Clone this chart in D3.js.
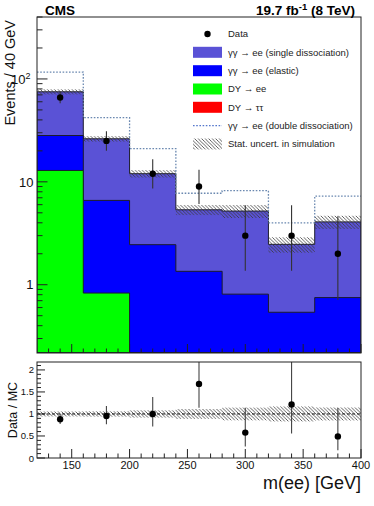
<!DOCTYPE html>
<html>
<head>
<meta charset="utf-8">
<script src="https://cdn.jsdelivr.net/npm/d3@7"></script>
<style>
  body { margin: 0; background: #fff; }
  text { font-family: "Liberation Sans", Arial, Helvetica, sans-serif; }
</style>
</head>
<body>
<div id="chart"></div>
<script>
// data
// --------------------------------------------------------
const binEdges = [120, 160, 200, 240, 280, 320, 360, 400];
const dyTauTau = [0, 0, 0, 0, 0, 0, 0];
const dyEE = [12.9, 0.83, 0, 0, 0, 0, 0];
const elastic = [15.3, 5.77, 2.45, 1.35, 0.81, 0.54, 0.75];
const singleDiss = [46.8, 19.6, 9.55, 4.0, 4.39, 1.93, 3.33];
const doubleDiss = [41.5, 15.8, 9.0, 2.4, 3.0, 1.53, 3.18];
const mcStatErr = [4.3, 1.6, 1.0, 0.6, 0.75, 0.42, 0.6];
const dataCounts = [66, 25, 12, 9, 3, 3, 2];
const dataErrLo = [8.1, 4.9, 3.4, 2.9, 1.63, 1.63, 1.29];
const dataErrHi = [9.1, 6.0, 4.6, 4.1, 2.92, 2.92, 2.64];

const xTicksMajor = [150, 200, 250, 300, 350, 400];
const yTicksMajor = [1, 10, 100];
const ratioTicks = [0, 0.5, 1, 1.5, 2];

const legendEntries = [
    {label: "Data", type: "marker"},
    {label: "γγ → ee (single dissociation)", type: "box", color: "#5a52d6"},
    {label: "γγ → ee (elastic)", type: "box", color: "#0000ff"},
    {label: "DY → ee", type: "box", color: "#00ff00"},
    {label: "DY → ττ", type: "box", color: "#ff0000"},
    {label: "γγ → ee (double dissociation)", type: "dotted"},
    {label: "Stat. uncert. in simulation", type: "hatch"}
];

// layout
// --------------------------------------------------------
let width = 374,
    height = 506,
    left = 37,
    right = 361,
    topY0 = 17,
    topY1 = 353,
    ratY0 = 362,
    ratY1 = 458;

let svg = d3.select("#chart").append("svg")
    .attr("width", width)
    .attr("height", height);

let defs = svg.append("defs");
defs.append("pattern")
    .attr("id", "hatch")
    .attr("patternUnits", "userSpaceOnUse")
    .attr("width", 3.5)
    .attr("height", 3.5)
  .append("path")
    .attr("d", "M-1,-1L4.5,4.5M-1,2.5L1,4.5M2.5,-1L4.5,1")
    .attr("stroke", "#3a3a3a")
    .attr("stroke-width", 0.8);

defs.append("clipPath").attr("id", "clipTop")
  .append("rect").attr("x", left).attr("y", topY0)
    .attr("width", right - left).attr("height", topY1 - topY0);
defs.append("clipPath").attr("id", "clipRat")
  .append("rect").attr("x", left).attr("y", ratY0)
    .attr("width", right - left).attr("height", ratY1 - ratY0);

// scales
// --------------------------------------------------------
let x = d3.scaleLinear().domain([120, 400]).range([left, right]);
let y = d3.scaleLog().domain([0.217, 400]).range([topY1, topY0]).clamp(true);
let yr = d3.scaleLinear().domain([0, 2.18]).range([ratY1, ratY0]);

let yMin = y.domain()[0];
let yv = v => y(Math.max(v, yMin));

let bins = d3.range(dataCounts.length).map(i => ({
    lo: binEdges[i],
    hi: binEdges[i + 1],
    mid: (binEdges[i] + binEdges[i + 1]) / 2,
    dytt: dyTauTau[i],
    dyee: dyEE[i],
    el: elastic[i],
    sd: singleDiss[i],
    dd: doubleDiss[i],
    err: mcStatErr[i],
    n: dataCounts[i],
    lo_e: dataErrLo[i],
    hi_e: dataErrHi[i]
}));

let stack = d3.stack().keys(["dytt", "dyee", "el", "sd"])(bins);
let colors = {dytt: "#ff0000", dyee: "#00ff00", el: "#0000ff", sd: "#5a52d6"};
bins.forEach((b, i) => { b.total = stack[3][i][1]; });

// step path through bin values
function stepPath(vals, closed) {
    let p = d3.path();
    p.moveTo(x(binEdges[0]), closed ? topY1 : yv(vals[0]));
    vals.forEach((v, i) => {
        p.lineTo(x(binEdges[i]), yv(v));
        p.lineTo(x(binEdges[i + 1]), yv(v));
    });
    if (closed) {
        p.lineTo(x(binEdges[binEdges.length - 1]), topY1);
        p.closePath();
    }
    return p.toString();
}

// top panel
// --------------------------------------------------------
let gTop = svg.append("g").attr("clip-path", "url(#clipTop)");

// stacked histograms, drawn from the total down
stack.slice().reverse().forEach(layer => {
    gTop.append("path")
        .attr("d", stepPath(layer.map(d => d[1]), true))
        .attr("fill", colors[layer.key])
        .attr("stroke", "#1c1c2c")
        .attr("stroke-width", 1);
});

// stat uncertainty band
gTop.selectAll(".band")
    .data(bins)
    .enter()
    .append("rect")
        .attr("class", "band")
        .attr("x", d => x(d.lo))
        .attr("width", d => x(d.hi) - x(d.lo))
        .attr("y", d => yv(d.total + d.err))
        .attr("height", d => yv(d.total - d.err) - yv(d.total + d.err))
        .attr("fill", "url(#hatch)");

// double dissociation on top of the stack
gTop.append("path")
    .attr("d", stepPath(bins.map(d => d.total + d.dd), false))
    .attr("fill", "none")
    .attr("stroke", "#6a88b0")
    .attr("stroke-width", 1.3)
    .attr("stroke-dasharray", "1.6,1.6");

// data
gTop.selectAll(".err")
    .data(bins)
    .enter()
    .append("line")
        .attr("class", "err")
        .attr("x1", d => x(d.mid))
        .attr("x2", d => x(d.mid))
        .attr("y1", d => yv(d.n + d.hi_e))
        .attr("y2", d => yv(d.n - d.lo_e))
        .attr("stroke", "#333")
        .attr("stroke-width", 1.1);

gTop.selectAll(".pt")
    .data(bins)
    .enter()
    .append("circle")
        .attr("class", "pt")
        .attr("cx", d => x(d.mid))
        .attr("cy", d => yv(d.n))
        .attr("r", 3.2)
        .attr("fill", "#000");

// frame and ticks, top
svg.append("rect")
    .attr("x", left).attr("y", topY0)
    .attr("width", right - left).attr("height", topY1 - topY0)
    .attr("fill", "none").attr("stroke", "#222").attr("stroke-width", 1);

let yMinor = [];
[0.1, 1, 10, 100].forEach(dec => {
    d3.range(2, 10).forEach(k => {
        let v = dec * k;
        if (v >= yMin && v <= 400) yMinor.push(v);
    });
});

svg.append("g").selectAll("line")
    .data(yMinor.map(v => ({v: v, len: 5.5})).concat(yTicksMajor.map(v => ({v: v, len: 10.5}))))
    .enter()
    .append("line")
        .attr("x1", left).attr("x2", d => left + d.len)
        .attr("y1", d => y(d.v)).attr("y2", d => y(d.v))
        .attr("stroke", "#222").attr("stroke-width", 1);

let xMinor = d3.range(130, 400, 10).filter(v => v % 50 != 0);

function xTickMarks(yBase, majLen, minLen) {
    svg.append("g").selectAll("line")
        .data(xMinor.map(v => ({v: v, len: minLen})).concat(xTicksMajor.map(v => ({v: v, len: majLen}))))
        .enter()
        .append("line")
            .attr("x1", d => x(d.v)).attr("x2", d => x(d.v))
            .attr("y1", yBase).attr("y2", d => yBase - d.len)
            .attr("stroke", "#222").attr("stroke-width", 1);
}
xTickMarks(topY1, 9, 4.5);

// y tick labels, top
let yLab = svg.append("g")
    .attr("font-size", 13)
    .attr("fill", "#111");
yLab.append("text").attr("x", 33.5).attr("y", y(1) + 4.7).attr("text-anchor", "end").text("1");
yLab.append("text").attr("x", 33.5).attr("y", y(10) + 4.7).attr("text-anchor", "end").text("10");
let t100 = yLab.append("text").attr("x", 30.5).attr("y", y(100) + 4.7).attr("text-anchor", "end");
t100.append("tspan").text("10");
t100.append("tspan").attr("font-size", 9).attr("dy", -5).text("2");

svg.append("text")
    .attr("transform", "translate(15,20) rotate(-90)")
    .attr("text-anchor", "end")
    .attr("font-size", 14.5)
    .attr("fill", "#111")
    .text("Events / 40 GeV");

svg.append("text")
    .attr("x", 45).attr("y", 15)
    .attr("font-size", 13.5).attr("font-weight", "bold")
    .text("CMS");

let lumi = svg.append("text")
    .attr("x", 355).attr("y", 15)
    .attr("text-anchor", "end")
    .attr("font-size", 13.5).attr("font-weight", "bold");
lumi.append("tspan").text("19.7 fb");
lumi.append("tspan").attr("font-size", 9.5).attr("dy", -5).text("-1");
lumi.append("tspan").attr("dy", 5).text(" (8 TeV)");

// legend
// --------------------------------------------------------
let legend = svg.append("g");
let legendY = [34, 52.3, 70.7, 89, 107.3, 125.7, 144];
legendEntries.forEach((e, i) => {
    let cy = legendY[i];
    if (e.type == "marker") {
        legend.append("circle").attr("cx", 207.5).attr("cy", cy).attr("r", 3.2).attr("fill", "#000");
    } else if (e.type == "box") {
        legend.append("rect")
            .attr("x", 193).attr("y", cy - 5.5).attr("width", 29).attr("height", 11)
            .attr("fill", e.color);
    } else if (e.type == "dotted") {
        legend.append("line")
            .attr("x1", 193).attr("x2", 222).attr("y1", cy).attr("y2", cy)
            .attr("stroke", "#5577cc").attr("stroke-width", 1.2)
            .attr("stroke-dasharray", "1.6,1.6");
    } else {
        legend.append("rect")
            .attr("x", 193).attr("y", cy - 5.5).attr("width", 29).attr("height", 11)
            .attr("fill", "url(#hatch)");
    }
    legend.append("text")
        .attr("x", 228).attr("y", cy + 3.4)
        .attr("font-size", 9.5).attr("fill", "#222")
        .text(e.label);
});

// ratio panel
// --------------------------------------------------------
let gRat = svg.append("g").attr("clip-path", "url(#clipRat)");

gRat.selectAll(".rband")
    .data(bins)
    .enter()
    .append("rect")
        .attr("class", "rband")
        .attr("x", d => x(d.lo))
        .attr("width", d => x(d.hi) - x(d.lo))
        .attr("y", d => yr(1 + d.err / d.total))
        .attr("height", d => yr(1 - d.err / d.total) - yr(1 + d.err / d.total))
        .attr("fill", "url(#hatch)");

gRat.append("line")
    .attr("x1", left).attr("x2", right)
    .attr("y1", yr(1)).attr("y2", yr(1))
    .attr("stroke", "#111").attr("stroke-width", 1)
    .attr("stroke-dasharray", "3,2");

gRat.selectAll(".rerr")
    .data(bins)
    .enter()
    .append("line")
        .attr("class", "rerr")
        .attr("x1", d => x(d.mid)).attr("x2", d => x(d.mid))
        .attr("y1", d => yr((d.n + d.hi_e) / d.total))
        .attr("y2", d => yr((d.n - d.lo_e) / d.total))
        .attr("stroke", "#444").attr("stroke-width", 1.1);

gRat.selectAll(".rpt")
    .data(bins)
    .enter()
    .append("circle")
        .attr("class", "rpt")
        .attr("cx", d => x(d.mid))
        .attr("cy", d => yr(d.n / d.total))
        .attr("r", 3.2)
        .attr("fill", "#000");

svg.append("rect")
    .attr("x", left).attr("y", ratY0)
    .attr("width", right - left).attr("height", ratY1 - ratY0)
    .attr("fill", "none").attr("stroke", "#222").attr("stroke-width", 1);

xTickMarks(ratY1, 9, 4.5);

let rMinor = d3.range(0.1, 2.15, 0.1).filter(v => Math.abs(v * 2 - Math.round(v * 2)) > 1e-6);
svg.append("g").selectAll("line")
    .data(rMinor.map(v => ({v: v, len: 4})).concat(ratioTicks.map(v => ({v: v, len: 8}))))
    .enter()
    .append("line")
        .attr("x1", left).attr("x2", d => left + d.len)
        .attr("y1", d => yr(d.v)).attr("y2", d => yr(d.v))
        .attr("stroke", "#222").attr("stroke-width", 1);

svg.append("g").selectAll("text")
    .data(ratioTicks)
    .enter()
    .append("text")
        .attr("x", 34)
        .attr("y", d => yr(d) + 3.5)
        .attr("text-anchor", "end")
        .attr("font-size", 9.5)
        .attr("fill", "#111")
        .text(d => d);

svg.append("g").selectAll("text")
    .data(xTicksMajor)
    .enter()
    .append("text")
        .attr("x", d => x(d))
        .attr("y", 469)
        .attr("text-anchor", "middle")
        .attr("font-size", 11)
        .attr("fill", "#111")
        .text(d => d);

svg.append("text")
    .attr("transform", "translate(17," + ((ratY0 + ratY1) / 2) + ") rotate(-90)")
    .attr("text-anchor", "middle")
    .attr("font-size", 12.5)
    .attr("fill", "#111")
    .text("Data / MC");

svg.append("text")
    .attr("x", 361).attr("y", 489)
    .attr("text-anchor", "end")
    .attr("font-size", 18)
    .attr("fill", "#111")
    .text("m(ee) [GeV]");
</script>
</body>
</html>
